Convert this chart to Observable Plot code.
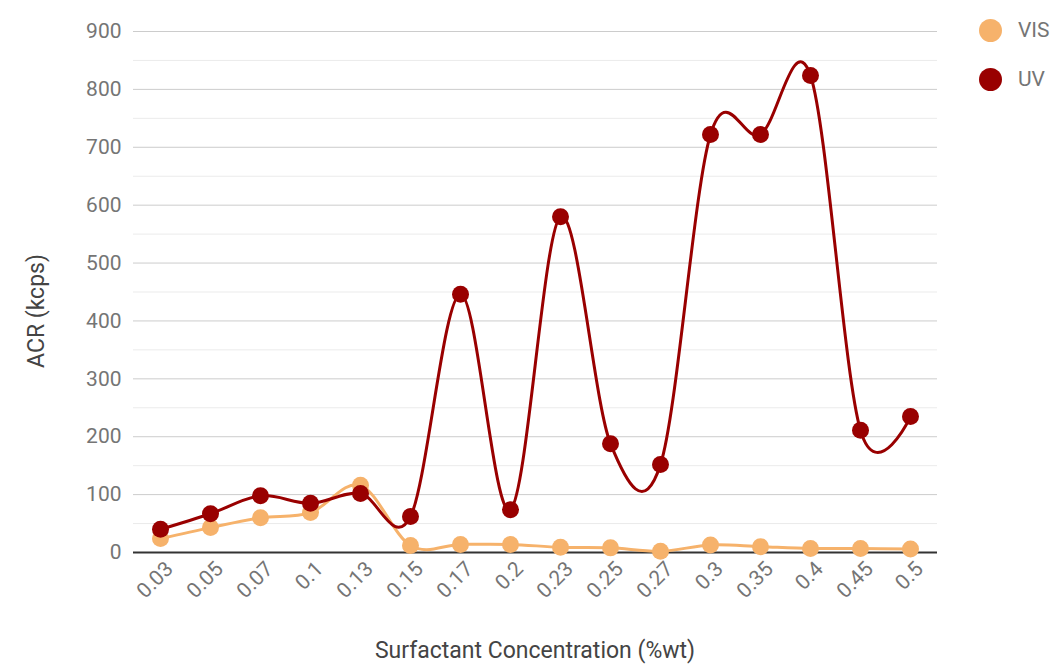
<!DOCTYPE html>
<html>
<head>
<meta charset="utf-8">
<script src="https://cdn.jsdelivr.net/npm/d3@7"></script>
<script src="https://cdn.jsdelivr.net/npm/@observablehq/plot@0.6"></script>
<style>
  html, body { margin: 0; padding: 0; background: #fff; }
  #wrap { position: relative; width: 1052px; height: 665px; font-family: Roboto, sans-serif; overflow: hidden; }
  #legend { position: absolute; left: 979px; top: 0; font-size: 21px; color: #757575; }
  .item { position: absolute; left: 0; display: flex; align-items: center; white-space: nowrap; }
  .dot { width: 23px; height: 23px; border-radius: 50%; margin-right: 16px; }
</style>
</head>
<body>
<div id="wrap"><div id="legend"></div></div>
<script>
const concentrations = ["0.03","0.05","0.07","0.1","0.13","0.15","0.17","0.2","0.23","0.25","0.27","0.3","0.35","0.4","0.45","0.5"];
const visValues = [24, 43, 60, 69, 116, 12, 14, 14, 9, 8, 2, 13, 10, 7, 7, 6];
const uvValues  = [40, 67, 98, 85, 102, 62, 446, 74, 580, 188, 152, 722, 722, 824, 211, 235];
const seriesNames = ["VIS", "UV"];
const seriesColors = ["#f6b26b", "#990000"];
const yTicks = [0, 100, 200, 300, 400, 500, 600, 700, 800, 900];
const yMinor = [50, 150, 250, 350, 450, 550, 650, 750, 850];

const rows = [];
concentrations.forEach((c, i) => {
  rows.push({x: c, y: visValues[i], s: "VIS"});
  rows.push({x: c, y: uvValues[i], s: "UV"});
});
const vis = rows.filter(d => d.s === "VIS");
const uv = rows.filter(d => d.s === "UV");

const chart = Plot.plot({
  width: 1052,
  height: 665,
  marginLeft: 133,
  marginRight: 115,
  marginTop: 31,
  marginBottom: 113,
  style: {fontFamily: "Roboto, sans-serif", fontSize: "21px", color: "#757575", background: "transparent", overflow: "visible"},
  x: {type: "point", domain: concentrations, padding: 0.5, label: null},
  y: {domain: [0, 900], label: null},
  color: {domain: seriesNames, range: seriesColors},
  marks: [
    Plot.ruleY(yMinor, {stroke: "#ebebeb", strokeWidth: 1}),
    Plot.ruleY(yTicks.slice(1), {stroke: "#cccccc", strokeWidth: 1}),
    Plot.ruleY([0], {stroke: "#333333", strokeWidth: 2}),
    Plot.axisY(yTicks, {tickSize: 0, tickPadding: 12, fontSize: 21, fill: "#757575", label: null}),
    Plot.axisX({tickSize: 0, tickRotate: -45, tickPadding: 9, dx: 9, dy: 4, fontSize: 21, fill: "#757575", label: null}),
    Plot.line(vis, {x: "x", y: "y", stroke: "s", strokeWidth: 3, curve: "cardinal"}),
    Plot.dot(vis, {x: "x", y: "y", fill: "s", r: 8.5}),
    Plot.line(uv, {x: "x", y: "y", stroke: "s", strokeWidth: 3, curve: "cardinal"}),
    Plot.dot(uv, {x: "x", y: "y", fill: "s", r: 8.5})
  ]
});
document.getElementById("wrap").prepend(chart);
chart.style.position = "absolute"; chart.style.left = "0"; chart.style.top = "0";

// axis titles as real SVG text in the chart
const ns = "http://www.w3.org/2000/svg";
const yTitle = document.createElementNS(ns, "text");
yTitle.textContent = "ACR (kcps)";
yTitle.setAttribute("transform", "translate(44,311) rotate(-90)");
yTitle.setAttribute("text-anchor", "middle");
yTitle.setAttribute("fill", "#444");
yTitle.setAttribute("font-size", "23");
chart.appendChild(yTitle);
const xTitle = document.createElementNS(ns, "text");
xTitle.textContent = "Surfactant Concentration (%wt)";
xTitle.setAttribute("x", "535");
xTitle.setAttribute("y", "658");
xTitle.setAttribute("text-anchor", "middle");
xTitle.setAttribute("fill", "#444");
xTitle.setAttribute("font-size", "23");
chart.appendChild(xTitle);

const legend = document.getElementById("legend");
seriesNames.forEach((n, i) => {
  const item = document.createElement("div");
  item.className = "item";
  item.style.top = (18 + i * 49) + "px";
  item.innerHTML = `<span class="dot" style="background:${seriesColors[i]}"></span><span>${n}</span>`;
  legend.appendChild(item);
});
</script>
</body>
</html>
